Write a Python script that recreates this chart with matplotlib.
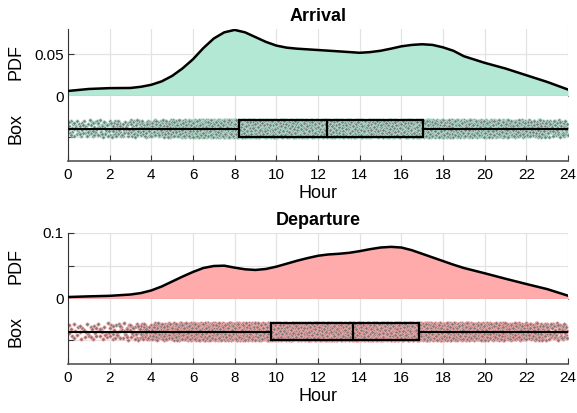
import numpy as np
import matplotlib
matplotlib.use("Agg")
import matplotlib.pyplot as plt
from matplotlib.patches import Rectangle

plt.rcParams['font.family'] = ['Liberation Sans', 'DejaVu Sans']

# ---- data ----
arrival_hours = [0, 1, 2, 3, 3.5, 4, 4.5, 5, 5.5, 6, 6.5, 7, 7.5, 8, 8.5, 9, 9.5, 10, 10.5, 11,
                 12, 13, 14, 14.5, 15, 15.5, 16, 16.5, 17, 17.5, 18, 18.5, 19, 20, 21, 22, 23, 24]
arrival_pdf = [0.0060, 0.0084, 0.0094, 0.0096, 0.0110, 0.0134, 0.0175, 0.0240, 0.0330, 0.0439,
               0.0573, 0.0687, 0.0760, 0.0789, 0.0760, 0.0703, 0.0646, 0.0602, 0.0577, 0.0565,
               0.0549, 0.0533, 0.0516, 0.0524, 0.0540, 0.0565, 0.0593, 0.0610, 0.0618, 0.0610,
               0.0581, 0.0540, 0.0475, 0.0396, 0.0328, 0.0248, 0.0168, 0.0077]
departure_hours = [0, 1, 2, 3, 3.5, 4, 4.5, 5, 5.5, 6, 6.5, 7, 7.5, 8, 8.5, 9, 9.5, 10, 10.5, 11,
                   11.5, 12, 12.5, 13, 13.5, 14, 14.5, 15, 15.5, 16, 16.5, 17, 17.5, 18, 18.5, 19,
                   20, 21, 22, 23, 24]
departure_pdf = [0.0030, 0.0040, 0.0048, 0.0068, 0.0090, 0.0130, 0.0190, 0.0265, 0.0340, 0.0410,
                 0.0470, 0.0500, 0.0505, 0.0475, 0.0450, 0.0440, 0.0455, 0.0490, 0.0535, 0.0580,
                 0.0620, 0.0655, 0.0675, 0.0685, 0.0700, 0.0725, 0.0755, 0.0780, 0.0790, 0.0780,
                 0.0740, 0.0685, 0.0630, 0.0575, 0.0520, 0.0470, 0.0390, 0.0307, 0.0227, 0.0150,
                 0.0050]
# box statistics: whisker low, Q1, median, Q3, whisker high
arrival_box = [0.0, 8.22, 12.45, 17.04, 24.0]
departure_box = [0.0, 9.73, 13.68, 16.85, 24.0]
n_points = 5000

titles = ["Arrival", "Departure"]
fill_colors = ["#b3e8d4", "#ffabab"]
pdf_ylims = [0.08, 0.1]
pdf_ticks = [[0, 0.05], [0, 0.05, 0.1]]
pdf_ticklabels = [["0", "0.05"], ["0", "", "0.1"]]


def vdc(n, base):
    out = np.zeros(n)
    for i in range(n):
        f, k, r = 1.0, i + 1, 0.0
        while k > 0:
            f /= base
            r += f * (k % base)
            k //= base
        out[i] = r
    return out


def quantile_points(x, pdf, n):
    x = np.asarray(x, float)
    p = np.asarray(pdf, float)
    cdf = np.concatenate([[0], np.cumsum(0.5 * (p[1:] + p[:-1]) * np.diff(x))])
    cdf /= cdf[-1]
    q = vdc(n, 2)
    return np.interp(q, cdf, x)


W, H = 577, 413
fig = plt.figure(figsize=(W / 100, H / 100), dpi=100)


def fy(top, bottom):
    return 1 - bottom / H, (bottom - top) / H


left, width = 68 / W, 500 / W
layout = [((29, 96), (96, 161)), ((233, 299), (299, 364))]
grid_c = "#e3e3e3"
spine_c = "#333333"

series = [(arrival_hours, arrival_pdf, arrival_box),
          (departure_hours, departure_pdf, departure_box)]

for k, (hrs, pdf, box) in enumerate(series):
    (pt, pb), (bt, bb) = layout[k]
    b0, h0 = fy(pt, pb)
    b1, h1 = fy(bt, bb)
    axp = fig.add_axes([left, b0, width, h0])
    axb = fig.add_axes([left, b1, width, h1])

    # PDF axes
    axp.fill_between(hrs, pdf, 0, color=fill_colors[k], lw=0, zorder=2)
    axp.plot(hrs, pdf, color="black", lw=1.8, zorder=3, solid_capstyle="round",
             solid_joinstyle="round")
    axp.set_xlim(0, 24)
    axp.set_ylim(0, pdf_ylims[k])
    axp.set_xticks(range(0, 25, 2))
    axp.set_xticklabels([])
    axp.set_yticks(pdf_ticks[k])
    axp.set_yticklabels(pdf_ticklabels[k])
    axp.grid(True, color=grid_c, lw=0.9, zorder=0)
    axp.set_axisbelow(True)
    for s in ["top", "right"]:
        axp.spines[s].set_visible(False)
    axp.spines["left"].set_color(spine_c)
    axp.spines["bottom"].set_color("#8c8c8c")
    axp.tick_params(axis="x", length=0)
    axp.tick_params(axis="y", direction="in", length=4, labelsize=11, color=spine_c, pad=3)
    axp.set_ylabel("PDF", fontsize=13)
    axp.yaxis.set_label_coords(-0.088, 0.5)
    axp.set_title(titles[k], fontsize=13, fontweight="bold", pad=6)

    # Box axes
    xs = quantile_points(hrs, pdf, n_points)
    ys = 0.5 + (vdc(n_points, 3) - 0.5) * 0.26
    axb.scatter(xs, ys, s=6, c="#7a7a7a", edgecolors=fill_colors[k], linewidths=0.5, zorder=2)
    lo, q1, med, q3, hi = box
    axb.plot([lo, q1], [0.5, 0.5], color="black", lw=1.5, zorder=3)
    axb.plot([q3, hi], [0.5, 0.5], color="black", lw=1.5, zorder=3)
    axb.add_patch(Rectangle((q1, 0.375), q3 - q1, 0.25, facecolor="none",
                            edgecolor="black", lw=1.6, zorder=4))
    axb.plot([med, med], [0.375, 0.625], color="black", lw=1.6, zorder=4)
    axb.set_xlim(0, 24)
    axb.set_ylim(0, 1)
    axb.set_xticks(range(0, 25, 2))
    axb.set_yticks([0.37])
    axb.set_yticklabels([])
    axb.grid(True, color=grid_c, lw=0.9, zorder=0)
    axb.set_axisbelow(True)
    for s in ["top", "right"]:
        axb.spines[s].set_visible(False)
    axb.spines["left"].set_color(spine_c)
    axb.spines["bottom"].set_color("#555555")
    axb.spines["bottom"].set_linewidth(1.2)
    axb.tick_params(axis="both", direction="in", length=4, labelsize=11, color=spine_c)
    axb.tick_params(axis="x", pad=5)
    axb.set_ylabel("Box", fontsize=13)
    axb.yaxis.set_label_coords(-0.088, 0.5)
    axb.set_xlabel("Hour", fontsize=13, labelpad=2)

fig.savefig("out.png", dpi=100)
